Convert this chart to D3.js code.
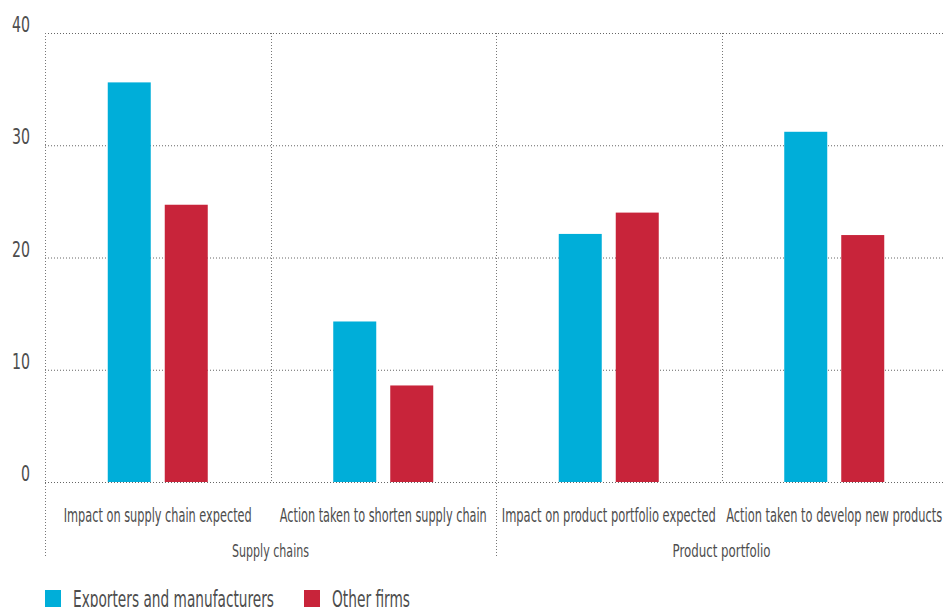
<!DOCTYPE html>
<html><head><meta charset="utf-8">
<script src="https://cdn.jsdelivr.net/npm/d3@7"></script>
<style>
body{margin:0;background:#fff;}
text{font-family:"DejaVu Sans Condensed","Liberation Sans Narrow","Roboto",sans-serif;fill:#4d4d4d;}
</style></head>
<body>
<svg id="chart" width="944" height="607"></svg>
<script>
const categories = ["Impact on supply chain expected","Action taken to shorten supply chain","Impact on product portfolio expected","Action taken to develop new products"];
const groups = ["Supply chains","Product portfolio"];
const groupOf = [0,0,1,1];
const seriesNames = ["Exporters and manufacturers","Other firms"];
const exporters = [35.6, 14.3, 22.1, 31.2];
const otherFirms = [24.7, 8.6, 24.0, 22.0];
const yTicks = [0,10,20,30,40];
const colors = ["#00aed9","#c8243a"];

(function(){
const svg = d3.select("#chart");
const mLeft = 45, mRight = 947, mTop = 33, mBottom = 482, axisBottom = 557;

const x = d3.scaleBand().domain(categories).range([mLeft, mRight]).padding(0);
const cw = x.bandwidth();
const xi = d3.scaleBand().domain(seriesNames).range([cw/2 - 50, cw/2 + 50]).paddingInner(0.2456).paddingOuter(0);
const y = d3.scaleLinear().domain([0,40]).range([mBottom, mTop]);

const dash = "1 2";

// fits text horizontally to a target width (condensed face substitute)
function fit(sel, w) {
  sel.each(function(d,i){
    const el = this;
    const natural = el.getComputedTextLength();
    const target = typeof w === "function" ? w(d,i) : w;
    if (natural > target) {
      d3.select(el).attr("textLength", target).attr("lengthAdjust","spacingAndGlyphs");
    }
  });
}

// horizontal gridlines
svg.append("g").selectAll("line").data(yTicks).join("line")
  .attr("x1", mLeft).attr("x2", 944)
  .attr("y1", d => y(d)+0.5).attr("y2", d => y(d)+0.5)
  .attr("stroke", "#666").attr("stroke-dasharray", dash).attr("stroke-width",1);

// y tick labels
svg.append("g").selectAll("text").data(yTicks).join("text")
  .attr("x", 30).attr("y", d => y(d) - 1)
  .attr("text-anchor","end").attr("font-size", 22)
  .text(d => d)
  .call(fit, d => String(d).length * 9);

// vertical separators
const groupBounds = [mLeft, x(categories[2]), mRight - 1];
svg.append("g").selectAll("line").data(groupBounds).join("line")
  .attr("x1", d => Math.round(d)+0.5).attr("x2", d => Math.round(d)+0.5)
  .attr("y1", mTop).attr("y2", axisBottom)
  .attr("stroke", "#777").attr("stroke-dasharray", dash);
const catBounds = [x(categories[1]), x(categories[3])];
svg.append("g").selectAll("line").data(catBounds).join("line")
  .attr("x1", d => Math.round(d)+0.5).attr("x2", d => Math.round(d)+0.5)
  .attr("y1", mTop).attr("y2", mBottom)
  .attr("stroke", "#777").attr("stroke-dasharray", dash);

// bars
const seriesData = [exporters, otherFirms];
seriesData.forEach((vals, si) => {
  svg.append("g").selectAll("rect").data(vals).join("rect")
    .attr("x", (d,i) => x(categories[i]) + xi(seriesNames[si]))
    .attr("width", xi.bandwidth())
    .attr("y", d => y(d))
    .attr("height", d => y(0) - y(d))
    .attr("fill", colors[si]);
});

// category labels
const catWidths = [188, 207, 214, 216];
svg.append("g").selectAll("text").data(categories).join("text")
  .attr("x", d => x(d) + cw/2).attr("y", 522)
  .attr("text-anchor","middle").attr("font-size", 19)
  .text(d => d)
  .call(fit, (d,i) => catWidths[i]);

// group labels
const groupWidths = [77, 98];
groups.forEach((g, gi) => {
  const cats = categories.filter((c,i) => groupOf[i] === gi);
  const gx = (x(cats[0]) + x(cats[cats.length-1]) + cw) / 2;
  svg.append("text").attr("x", gx).attr("y", 557)
    .attr("text-anchor","middle").attr("font-size", 18)
    .text(g).call(fit, groupWidths[gi]);
});

// legend
const legendX = [45, 304];
const legendWidths = [201, 78];
seriesNames.forEach((s, si) => {
  const g = svg.append("g").attr("transform", `translate(${legendX[si]},590)`);
  g.append("rect").attr("width",16).attr("height",17).attr("fill",colors[si]);
  g.append("text").attr("x",28).attr("y",17).attr("font-size",23).text(s)
    .call(fit, legendWidths[si]);
});
})();
</script>
</body></html>
